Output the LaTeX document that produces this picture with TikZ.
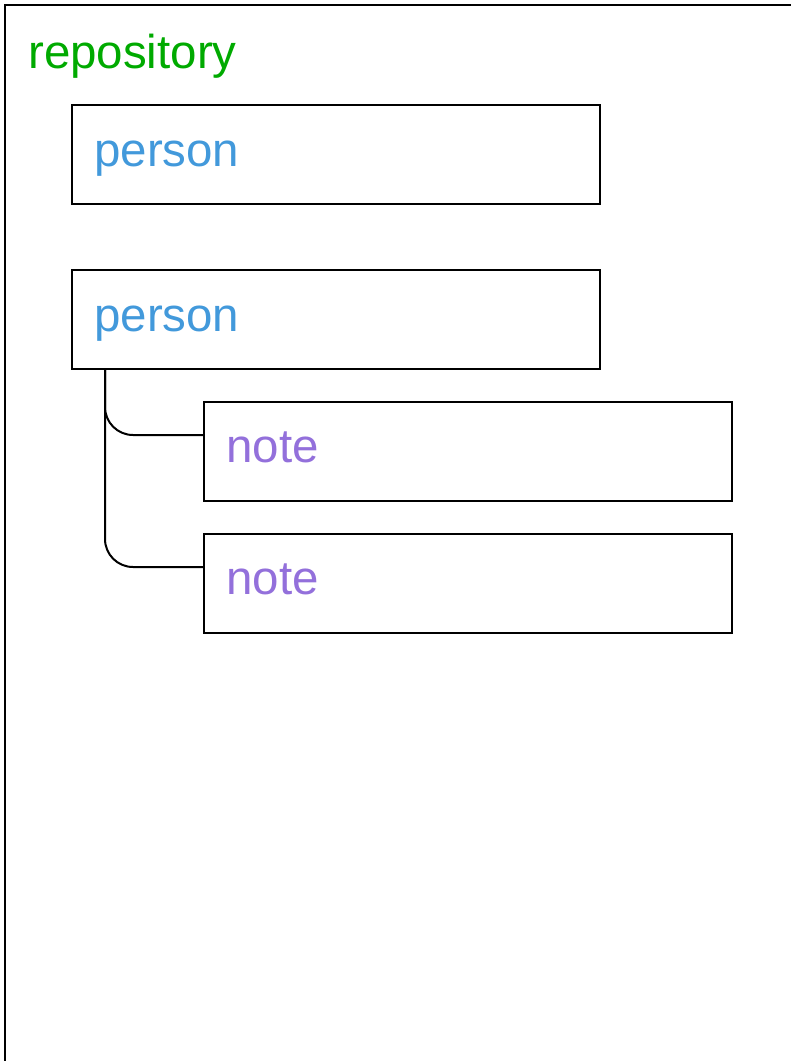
\documentclass[tikz,border=0pt]{standalone}
\usepackage{fontspec}
\setmainfont{Liberation Sans}
\usetikzlibrary{positioning}
\definecolor{repogreen}{RGB}{0,170,0}
\definecolor{personblue}{RGB}{66,153,219}
\definecolor{notepurple}{RGB}{147,112,219}
\tikzset{
 box/.style={draw,line width=2pt,minimum width=528pt,minimum height=99pt,inner sep=0pt},
 lbl/.style={anchor=base west,inner sep=0pt,font=\fontsize{47.5}{57}\selectfont},
 link/.style={line width=2pt,rounded corners=28pt}
}
\begin{document}
\begin{tikzpicture}[x=1pt,y=-1pt]
\useasboundingbox(0,0)rectangle(791,1061);
\draw[line width=2.5pt](5,5)rectangle(820,1090);
\node[lbl,repogreen](repo)at(28,68){repository};
\node[box](person1)at(336,154.5){};
\node[lbl,personblue]at(94,166){person};
\node[box](person2)at(336,319.5){};
\node[lbl,personblue]at(94,331){person};
\coordinate(trunk)at(105,369);
\foreach \i/\y in{1/451,2/583}
{\node[box](note\i)at(468,\y){};
\node[lbl,notepurple]at(226,\y+11){note};
\draw[link](trunk)|-([yshift=16pt]note\i.west);}
\end{tikzpicture}
\end{document}
